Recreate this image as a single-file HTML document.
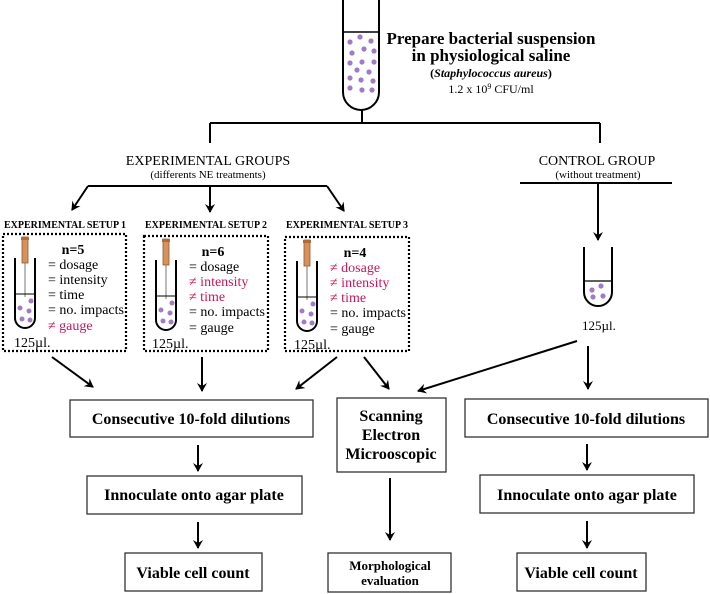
<!DOCTYPE html>
<html><head><meta charset="utf-8"><style>
html,body{margin:0;padding:0;background:#fff;}
svg{display:block;font-family:"Liberation Serif",serif;}
.r{fill:#c8175d;}
</style></head><body>
<svg width="710" height="594" viewBox="0 0 710 594" xmlns="http://www.w3.org/2000/svg">
<defs>
<marker id="a" markerWidth="10" markerHeight="10" refX="8" refY="5" orient="auto" markerUnits="userSpaceOnUse">
<path d="M0,0 L9,5 L0,10 L3,5 Z" fill="#000"/></marker>
<g id="syr">
<rect x="-3" y="0" width="6" height="26" fill="#d9905a" stroke="#8a5a30" stroke-width="0.8"/>
<rect x="-4" y="0" width="8" height="3" fill="#b06a38"/>
<line x1="0" y1="26" x2="0" y2="60" stroke="#777" stroke-width="1"/>
</g>
</defs>
<g stroke="#000" stroke-width="2" fill="none">
<path d="M343,0 V92 A18,18 0 0 0 379,92 V0"/>
<line x1="343" y1="32" x2="379" y2="32" stroke-width="1.5"/>
<line x1="362" y1="110" x2="362" y2="123"/>
<line x1="210" y1="123" x2="600" y2="123"/>
<line x1="210" y1="123" x2="210" y2="143"/>
<line x1="600" y1="123" x2="600" y2="143"/>
<line x1="88" y1="186" x2="327" y2="186"/>
<line x1="88" y1="186" x2="72" y2="210" marker-end="url(#a)"/>
<line x1="210" y1="186" x2="210" y2="212" marker-end="url(#a)"/>
<line x1="327" y1="186" x2="344" y2="211" marker-end="url(#a)"/>
<line x1="520" y1="183" x2="672" y2="183"/>
<line x1="598" y1="183" x2="598" y2="240" marker-end="url(#a)"/>
<path d="M584,247 V292 A14,14 0 0 0 612,292 V247"/>
<line x1="584" y1="281" x2="612" y2="281" stroke-width="1.2"/>
</g>
<g fill="#a07cc5">
<circle cx="350" cy="42" r="2.6"/><circle cx="360" cy="37" r="2.6"/><circle cx="371" cy="41" r="2.6"/>
<circle cx="352" cy="53" r="2.6"/><circle cx="364" cy="49" r="2.6"/><circle cx="374" cy="51" r="2.6"/>
<circle cx="350" cy="63" r="2.6"/><circle cx="362" cy="62" r="2.6"/><circle cx="374" cy="62" r="2.6"/>
<circle cx="357" cy="70" r="2.6"/><circle cx="369" cy="72" r="2.6"/>
<circle cx="350" cy="78" r="2.6"/><circle cx="361" cy="80" r="2.6"/><circle cx="373" cy="81" r="2.6"/>
<circle cx="350" cy="88" r="2.6"/><circle cx="362" cy="90" r="2.6"/><circle cx="372" cy="90" r="2.6"/>
<circle cx="592" cy="290" r="2.6"/><circle cx="601" cy="286" r="2.6"/><circle cx="593" cy="297" r="2.6"/><circle cx="603" cy="296" r="2.6"/>
</g>
<g stroke="#000" stroke-width="2.2" stroke-dasharray="2,2" fill="none">
<rect x="3" y="234" width="123" height="117"/>
<rect x="144" y="236" width="124" height="115"/>
<rect x="285" y="237" width="124" height="114"/>
</g>
<g>
<g>
<use href="#syr" x="25" y="237"/>
<path d="M15,258 V318 A10,10 0 0 0 35,318 V258" stroke="#000" stroke-width="2" fill="none"/>
<line x1="15" y1="294" x2="35" y2="294" stroke="#000"/>
<g fill="#a07cc5"><circle cx="20" cy="308" r="2.5"/><circle cx="31" cy="301" r="2.5"/><circle cx="29" cy="311" r="2.5"/><circle cx="22" cy="319" r="2.5"/><circle cx="30" cy="320" r="2.5"/></g>
</g>
<g transform="translate(141,2)">
<use href="#syr" x="25" y="237"/>
<path d="M15,258 V318 A10,10 0 0 0 35,318 V258" stroke="#000" stroke-width="2" fill="none"/>
<line x1="15" y1="294" x2="35" y2="294" stroke="#000"/>
<g fill="#a07cc5"><circle cx="20" cy="308" r="2.5"/><circle cx="31" cy="301" r="2.5"/><circle cx="29" cy="311" r="2.5"/><circle cx="22" cy="319" r="2.5"/><circle cx="30" cy="320" r="2.5"/></g>
</g>
<g transform="translate(282,3)">
<use href="#syr" x="25" y="237"/>
<path d="M15,258 V318 A10,10 0 0 0 35,318 V258" stroke="#000" stroke-width="2" fill="none"/>
<line x1="15" y1="294" x2="35" y2="294" stroke="#000"/>
<g fill="#a07cc5"><circle cx="20" cy="308" r="2.5"/><circle cx="31" cy="301" r="2.5"/><circle cx="29" cy="311" r="2.5"/><circle cx="22" cy="319" r="2.5"/><circle cx="30" cy="320" r="2.5"/></g>
</g>
</g>
<g font-size="17" font-weight="bold" text-anchor="middle">
<text x="491" y="44">Prepare bacterial suspension</text>
<text x="491" y="61">in physiological saline</text>
</g>
<text x="491" y="77" font-size="12" font-weight="bold" text-anchor="middle">(<tspan font-style="italic">Staphylococcus aureus</tspan>)</text>
<text x="491" y="93" font-size="12" text-anchor="middle">1.2 x 10<tspan font-size="8" dy="-4">9</tspan><tspan dy="4"> CFU/ml</tspan></text>
<text x="208" y="165" font-size="14" text-anchor="middle">EXPERIMENTAL GROUPS</text>
<text x="208" y="178" font-size="11" text-anchor="middle">(differents NE treatments)</text>
<text x="597" y="165" font-size="14" text-anchor="middle">CONTROL GROUP</text>
<text x="598" y="178" font-size="11" text-anchor="middle">(without treatment)</text>
<g font-size="10" font-weight="bold" text-anchor="middle">
<text x="65" y="228">EXPERIMENTAL SETUP 1</text>
<text x="206" y="228">EXPERIMENTAL SETUP 2</text>
<text x="347" y="228">EXPERIMENTAL SETUP 3</text>
</g>
<g font-size="14">
<text x="73" y="254" font-weight="bold" text-anchor="middle">n=5</text>
<text x="48" y="269">= dosage</text>
<text x="48" y="284">= intensity</text>
<text x="48" y="299">= time</text>
<text x="48" y="314" textLength="76" lengthAdjust="spacingAndGlyphs">= no. impacts</text>
<text x="48" y="330" class="r">≠ gauge</text>
<text x="14" y="347">125µl.</text>

<text x="213" y="256" font-weight="bold" text-anchor="middle">n=6</text>
<text x="189" y="271">= dosage</text>
<text x="189" y="286" class="r">≠ intensity</text>
<text x="189" y="301" class="r">≠ time</text>
<text x="189" y="316" textLength="76" lengthAdjust="spacingAndGlyphs">= no. impacts</text>
<text x="189" y="332">= gauge</text>
<text x="152" y="348">125µl.</text>

<text x="355" y="257" font-weight="bold" text-anchor="middle">n=4</text>
<text x="330" y="272" class="r">≠ dosage</text>
<text x="330" y="287" class="r">≠ intensity</text>
<text x="330" y="302" class="r">≠ time</text>
<text x="330" y="317" textLength="76" lengthAdjust="spacingAndGlyphs">= no. impacts</text>
<text x="330" y="333">= gauge</text>
<text x="294" y="349">125µl.</text>

<text x="582" y="330" font-size="13">125µl.</text>
</g>
<g stroke="#000" stroke-width="2" fill="none">
<line x1="52" y1="357" x2="93" y2="387" marker-end="url(#a)"/>
<line x1="202" y1="357" x2="202" y2="391" marker-end="url(#a)"/>
<line x1="337" y1="357" x2="296" y2="389" marker-end="url(#a)"/>
<line x1="364" y1="357" x2="389" y2="389" marker-end="url(#a)"/>
<line x1="577" y1="341" x2="418" y2="391" marker-end="url(#a)"/>
<line x1="588" y1="346" x2="588" y2="389" marker-end="url(#a)"/>
<line x1="198" y1="445" x2="198" y2="471" marker-end="url(#a)"/>
<line x1="198" y1="522" x2="198" y2="548" marker-end="url(#a)"/>
<line x1="390" y1="478" x2="390" y2="540" marker-end="url(#a)"/>
<line x1="587" y1="444" x2="587" y2="470" marker-end="url(#a)"/>
<line x1="587" y1="521" x2="587" y2="548" marker-end="url(#a)"/>
</g>
<g stroke="#333" stroke-width="1.3" fill="#fff">
<rect x="70" y="400" width="243" height="37"/>
<rect x="87" y="476" width="215" height="38"/>
<rect x="125" y="553" width="137" height="38"/>
<rect x="337" y="398" width="109" height="74"/>
<rect x="328" y="553" width="123" height="39"/>
<rect x="465" y="399" width="243" height="38"/>
<rect x="480" y="475" width="214" height="38"/>
<rect x="517" y="553" width="129" height="38"/>
</g>
<g font-size="16" font-weight="bold" text-anchor="middle">
<text x="191" y="424">Consecutive 10-fold dilutions</text>
<text x="194" y="500">Innoculate onto agar plate</text>
<text x="193" y="578">Viable cell count</text>
<text x="391" y="421">Scanning</text>
<text x="391" y="440">Electron</text>
<text x="391" y="459">Microoscopic</text>
<text x="586" y="424">Consecutive 10-fold dilutions</text>
<text x="587" y="500">Innoculate onto agar plate</text>
<text x="581" y="578">Viable cell count</text>
<text x="390" y="570" font-size="13">Morphological</text>
<text x="390" y="585" font-size="13">evaluation</text>
</g>
</svg>
</body></html>
